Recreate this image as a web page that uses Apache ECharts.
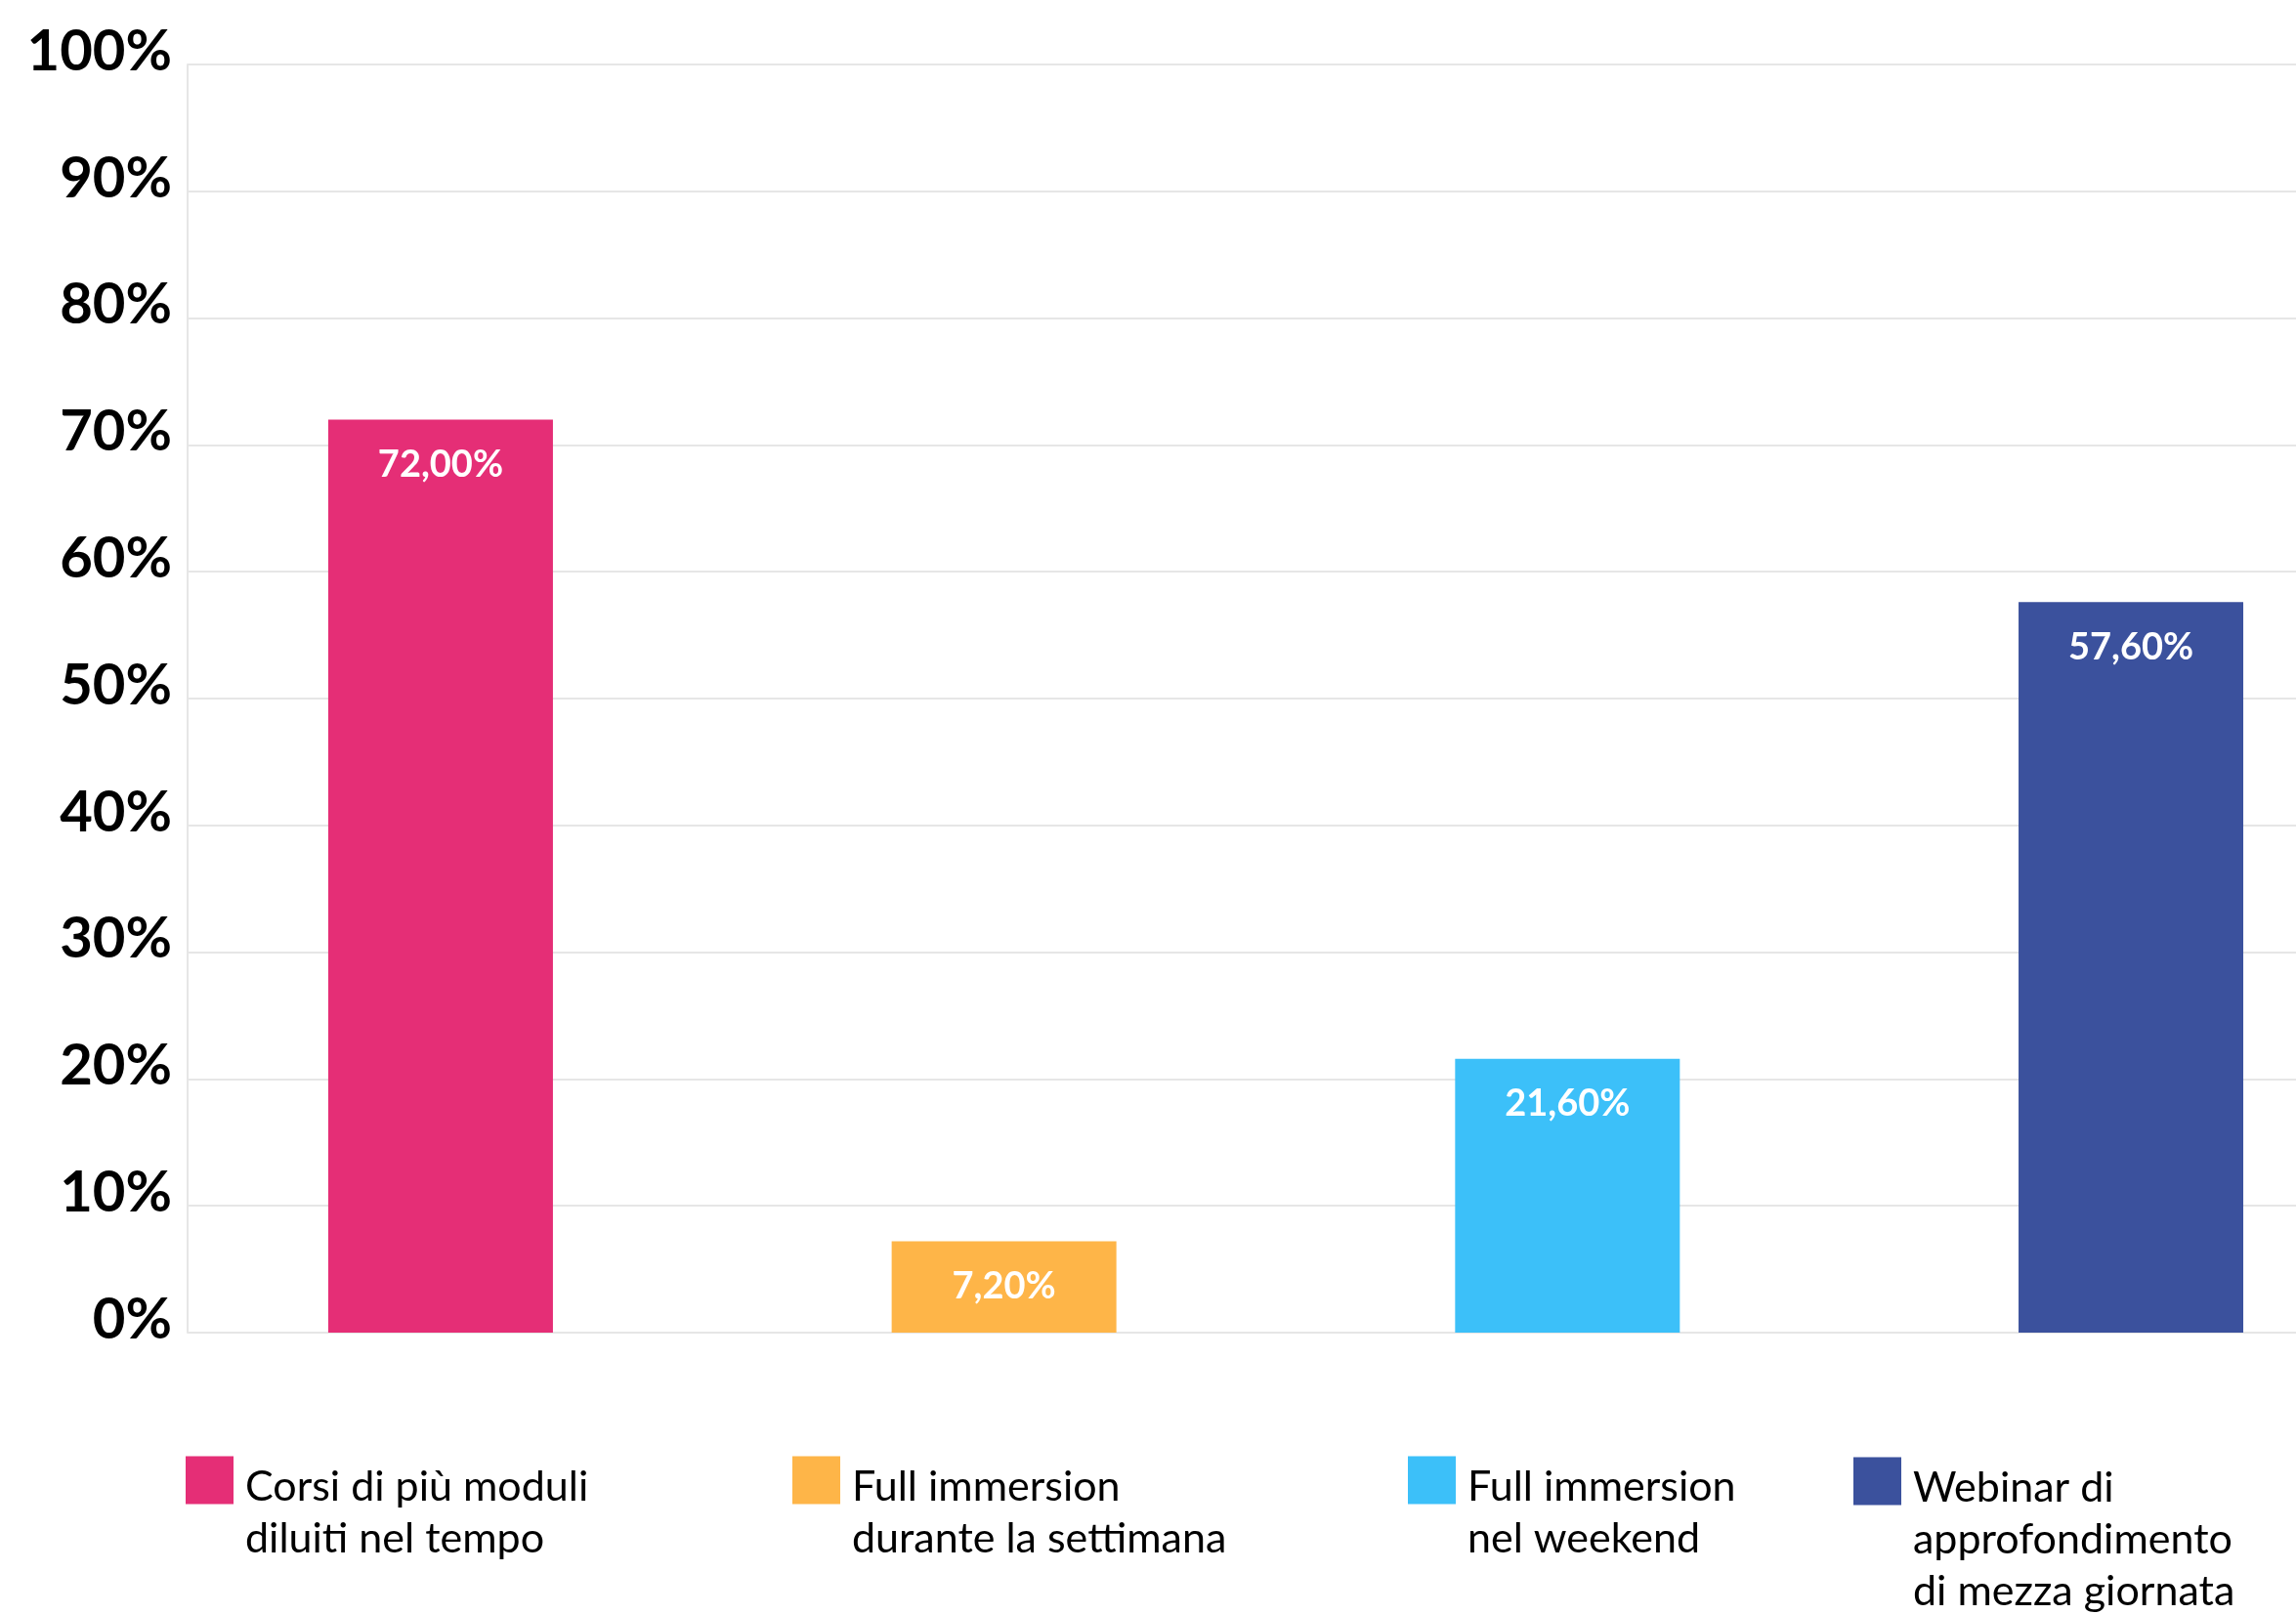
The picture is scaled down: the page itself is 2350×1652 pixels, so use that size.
<!DOCTYPE html>
<html lang="it">
<head>
<meta charset="UTF-8">
<title>Formati di corso preferiti</title>
<script src="https://cdn.jsdelivr.net/npm/echarts@6/dist/echarts.min.js"></script>
<style>
    html, body { margin: 0; padding: 0; background: #ffffff; }
    #main { width: 2350px; height: 1652px; }
</style>
</head>
<body>
<div id="main"></div>
<script type="text/javascript">
    // dati
    var categorie = [
        'Corsi di più moduli\ndiluiti nel tempo',
        'Full immersion\ndurante la settimana',
        'Full immersion\nnel weekend',
        'Webinar di\napprofondimento\ndi mezza giornata'
    ];
    var valori = [72.0, 7.2, 21.6, 57.6];
    var colori = ['#e52e76', '#feb548', '#3cc0f9', '#3b519d'];
    var yTicks = [0, 10, 20, 30, 40, 50, 60, 70, 80, 90, 100];

    var chart = echarts.init(document.getElementById('main'));

    // posizione delle voci di legenda (angolo alto-sinistro del quadratino)
    var legLeft = [190, 811, 1441, 1897];
    var legTop = [1491, 1491, 1491, 1492];
    var lh = 53;

    var legende = categorie.map(function (nome, i) {
        var righe = nome.split('\n').length;
        var spazio = righe * lh - 39;          // riga vuota sopra il testo
        return {
            data: [nome],
            left: legLeft[i],
            top: legTop[i] - (righe * lh / 2 - 23),
            icon: 'rect',
            itemWidth: 49,
            itemHeight: 49,
            padding: 0,
            selectedMode: false,
            formatter: function (n) {
                return '{s| }\n' + n.split('\n').map(function (r) { return '{t|' + r + '}'; }).join('\n');
            },
            textStyle: {
                padding: [0, 0, 0, 7],
                rich: {
                    s: { fontSize: 2, lineHeight: spazio },
                    t: { fontFamily: 'Lato', fontSize: 43, color: '#000000', lineHeight: lh }
                }
            }
        };
    });

    var serie = categorie.map(function (nome, i) {
        return {
            name: nome,
            type: 'bar',
            data: [[i, valori[i]]],
            barWidth: 230,
            barGap: '-100%',
            itemStyle: { color: colori[i] },
            label: {
                show: true,
                position: 'insideTop',
                distance: 27,
                color: '#ffffff',
                fontFamily: 'Lato',
                fontWeight: 'bold',
                fontSize: 38,
                formatter: function (p) {
                    return p.value[1].toFixed(2).replace('.', ',') + '%';
                }
            }
        };
    });

    var option = {
        animation: false,
        backgroundColor: '#ffffff',
        grid: {
            left: 192,
            right: 0,
            top: 66,
            bottom: 288,
            outerBoundsMode: 'none'
        },
        xAxis: {
            type: 'value',
            min: -0.449,
            max: 3.293,
            show: false
        },
        yAxis: {
            type: 'value',
            min: yTicks[0],
            max: yTicks[yTicks.length - 1],
            interval: yTicks[1] - yTicks[0],
            axisLine: { show: true, onZero: false, lineStyle: { color: '#e6e6e6', width: 2 } },
            axisTick: { show: false },
            splitLine: { show: true, lineStyle: { color: '#e6e6e6', width: 2 } },
            axisLabel: {
                formatter: '{value}%',
                color: '#000000',
                fontFamily: 'Lato',
                fontWeight: 'bold',
                fontSize: 58,
                margin: 16,
                verticalAlign: 'bottom',
                lineHeight: 26
            }
        },
        legend: legende,
        series: serie
    };

    chart.setOption(option);
</script>
</body>
</html>
